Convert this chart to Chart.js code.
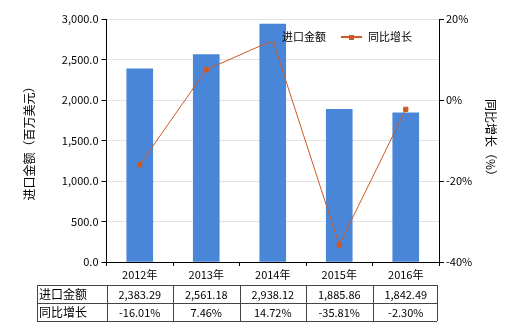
<!DOCTYPE html>
<html>
<head>
<meta charset="utf-8">
<script src="https://cdn.jsdelivr.net/npm/chart.js@4"></script>
<style>
  html, body { margin: 0; padding: 0; background: #fff; }
  #wrap { width: 520px; height: 330px; }
</style>
</head>
<body>
<div id="wrap"><canvas id="c" width="520" height="330"></canvas></div>
<script>
const years = ["2012年", "2013年", "2014年", "2015年", "2016年"];
const importValue = [2383.29, 2561.18, 2938.12, 1885.86, 1842.49];
const growthRate = [-16.01, 7.46, 14.72, -35.81, -2.30];
const importText = ["2,383.29", "2,561.18", "2,938.12", "1,885.86", "1,842.49"];
const growthText = ["-16.01%", "7.46%", "14.72%", "-35.81%", "-2.30%"];
const rowNames = ["进口金额", "同比增长"];

const FONT = '"Noto Sans CJK SC", "DejaVu Sans", sans-serif';
const barColor = '#4a86d8';
const lineColor = '#cc5a24';

/* legend + data table under the axis */
const extras = {
  id: 'extras',
  afterDraw(chart) {
    const ctx = chart.ctx;
    const x = chart.scales.x;
    const area = chart.chartArea;
    ctx.save();
    ctx.font = '11px ' + FONT;
    ctx.fillStyle = '#000';
    ctx.textBaseline = 'middle';

    // legend
    ctx.fillStyle = barColor;
    ctx.fillRect(269, 32, 10, 10);
    ctx.fillStyle = '#000';
    ctx.textAlign = 'left';
    ctx.fillText('进口金额', 282, 37);
    ctx.strokeStyle = lineColor;
    ctx.lineWidth = 2;
    ctx.beginPath();
    ctx.moveTo(341, 37); ctx.lineTo(362, 37);
    ctx.stroke();
    ctx.fillStyle = lineColor;
    ctx.fillRect(349, 35, 5, 5);
    ctx.fillStyle = '#000';
    ctx.fillText('同比增长', 368, 37);

    // table
    const top = 285, rowH = 18, left = 37;
    const right = area.right - 2;
    ctx.strokeStyle = '#444';
    ctx.lineWidth = 1;
    ctx.beginPath();
    for (let r = 0; r <= 2; r++) {
      ctx.moveTo(left, top + r * rowH + 0.5);
      ctx.lineTo(right, top + r * rowH + 0.5);
    }
    ctx.moveTo(left + 0.5, top); ctx.lineTo(left + 0.5, top + 2 * rowH);
    const step = (area.right - area.left) / years.length;
    for (let i = 0; i < years.length; i++) {
      const bx = Math.round(area.left + i * step) + 0.5;
      ctx.moveTo(bx, top); ctx.lineTo(bx, top + 2 * rowH);
    }
    ctx.moveTo(right + 0.5, top); ctx.lineTo(right + 0.5, top + 2 * rowH);
    ctx.stroke();

    ctx.textAlign = 'left';
    ctx.font = '12px ' + FONT;
    ctx.fillText(rowNames[0], left + 2, top + rowH / 2);
    ctx.fillText(rowNames[1], left + 2, top + rowH * 1.5);
    ctx.font = '11px ' + FONT;
    ctx.textAlign = 'center';
    for (let i = 0; i < years.length; i++) {
      const cx = x.getPixelForValue(i);
      ctx.fillText(importText[i], cx, top + rowH / 2 + 1);
      ctx.fillText(growthText[i], cx, top + rowH * 1.5 + 1);
    }
    ctx.restore();
  }
};

new Chart(document.getElementById('c'), {
  data: {
    labels: years,
    datasets: [
      {
        type: 'line',
        label: '同比增长',
        data: growthRate,
        yAxisID: 'y1',
        borderColor: lineColor,
        backgroundColor: lineColor,
        borderWidth: 1,
        pointStyle: 'rect',
        pointRadius: 3,
        tension: 0,
        order: 0
      },
      {
        type: 'bar',
        label: '进口金额',
        data: importValue,
        yAxisID: 'y',
        backgroundColor: barColor,
        barThickness: 26,
        order: 1
      }
    ]
  },
  options: {
    responsive: false,
    animation: false,
    layout: { padding: { top: 19, bottom: 45, left: 0, right: 0 } },
    plugins: {
      legend: { display: false },
      tooltip: { enabled: false }
    },
    scales: {
      x: {
        grid: { display: true, offset: true, drawOnChartArea: false, tickLength: 4, tickColor: '#000' },
        border: { color: '#000' },
        ticks: { color: '#000', font: { family: FONT, size: 11 }, padding: 2 },
        afterFit(s) { s.height = 23; }
      },
      y: {
        position: 'left',
        min: 0, max: 3000,
        ticks: {
          stepSize: 500, color: '#000', font: { family: FONT, size: 11 }, padding: 3,
          callback: v => v.toLocaleString('en-US', { minimumFractionDigits: 1, maximumFractionDigits: 1 })
        },
        grid: { color: '#e3e3e3', tickColor: '#000', tickLength: 5 },
        border: { color: '#000' },
        title: { display: true, text: '进口金额（百万美元）', color: '#000', font: { family: FONT, size: 12 }, padding: { top: 22, bottom: 0 } },
        afterFit(s) { s.width = 106.5; }
      },
      y1: {
        position: 'right',
        min: -40, max: 20,
        ticks: { stepSize: 20, color: '#000', font: { family: FONT, size: 11 }, padding: 2, callback: v => v + '%' },
        grid: { drawOnChartArea: false, tickColor: '#000', tickLength: 5 },
        border: { color: '#000' },
        title: { display: true, text: '同比增长（%）', color: '#000', font: { family: FONT, size: 12 }, padding: { top: 22, bottom: 0 } },
        afterFit(s) { s.width = 81; }
      }
    }
  },
  plugins: [extras]
});
</script>
</body>
</html>
